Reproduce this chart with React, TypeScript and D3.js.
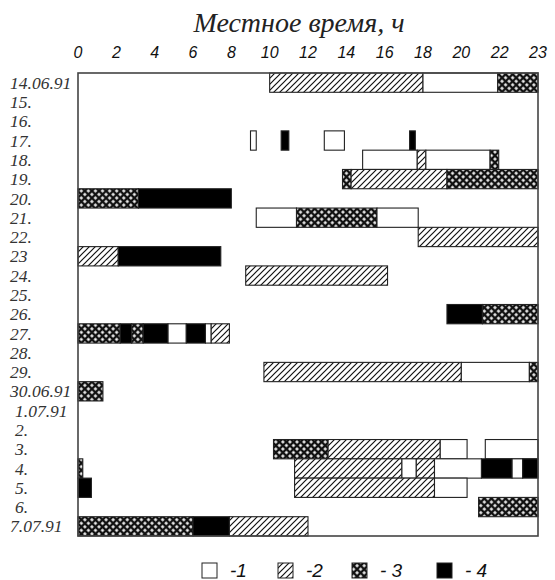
import React, { useEffect, useRef } from 'react';
import * as d3 from 'd3';

// rows (days), top to bottom
const rowLabels = [
  '14.06.91', '15.', '16.', '17.', '18.', '19.', '20.', '21.', '22.', '23',
  '24.', '25.', '26.', '27.', '28.', '29.', '30.06.91',
  '1.07.91', '2.', '3.', '4.', '5.', '6.', '7.07.91',
];

// [day, kind, from hour, to hour]; kind 1 = blank, 2 = hatched, 3 = cross, 4 = black
const segments: [string, number, number, number][] = [
  ['14.06.91', 2, 10, 18], ['14.06.91', 1, 18, 21.9], ['14.06.91', 3, 21.9, 24],
  ['17.', 1, 9.0, 9.3], ['17.', 4, 10.6, 11.0], ['17.', 1, 12.85, 13.9], ['17.', 4, 17.3, 17.6],
  ['18.', 1, 14.85, 17.7], ['18.', 2, 17.7, 18.15], ['18.', 1, 18.15, 21.5], ['18.', 3, 21.5, 21.95],
  ['19.', 3, 13.8, 14.25], ['19.', 2, 14.25, 19.25], ['19.', 3, 19.25, 24],
  ['20.', 3, 0, 3.15], ['20.', 4, 3.15, 8.0],
  ['21.', 1, 9.3, 11.4], ['21.', 3, 11.4, 15.6], ['21.', 1, 15.6, 17.75],
  ['22.', 2, 17.75, 24],
  ['23', 2, 0, 2.1], ['23', 4, 2.1, 7.45],
  ['24.', 2, 8.75, 16.15],
  ['26.', 4, 19.25, 21.1], ['26.', 3, 21.1, 24],
  ['27.', 3, 0, 2.2], ['27.', 4, 2.2, 2.8], ['27.', 3, 2.8, 3.4], ['27.', 4, 3.4, 4.7],
  ['27.', 1, 4.7, 5.65], ['27.', 4, 5.65, 6.65], ['27.', 1, 6.65, 6.95], ['27.', 2, 6.95, 7.9],
  ['29.', 2, 9.7, 20.0], ['29.', 1, 20.0, 23.55], ['29.', 3, 23.55, 24],
  ['30.06.91', 3, 0, 1.3],
  ['3.', 3, 10.2, 13.05], ['3.', 2, 13.05, 18.9], ['3.', 1, 18.9, 20.3], ['3.', 1, 21.25, 24],
  ['4.', 3, 0, 0.25], ['4.', 2, 11.3, 16.9], ['4.', 1, 16.9, 17.65], ['4.', 2, 17.65, 18.6],
  ['4.', 1, 18.6, 21.05], ['4.', 4, 21.05, 22.65], ['4.', 1, 22.65, 23.2], ['4.', 4, 23.2, 24],
  ['5.', 4, 0, 0.7], ['5.', 2, 11.3, 18.6], ['5.', 1, 18.6, 20.3],
  ['6.', 3, 20.9, 24],
  ['7.07.91', 3, 0, 6], ['7.07.91', 4, 6, 7.9], ['7.07.91', 2, 7.9, 12],
];

const hourTicks = [0, 2, 4, 6, 8, 10, 12, 14, 16, 18, 20, 22, 24];
const hourTickLabels = ['0', '2', '4', '6', '8', '10', '12', '14', '16', '18', '20', '22', '23'];

const legendKinds = [1, 2, 3, 4];
const legendLabels = ['-1', '-2', '- 3', '- 4'];

const fillFor = (k: number) =>
  k === 1 ? '#fff' : k === 2 ? 'url(#hatch)' : k === 3 ? 'url(#cross)' : '#000';

const App: React.FC = () => {
  const svgRef = useRef<SVGSVGElement>(null);

  useEffect(() => {
    if (!svgRef.current) return;
    const root = d3.select(svgRef.current);
    root.selectAll('*').remove();

    const width = 555;
    const height = 580;
    const left = 78, right = 538, top = 73, bottom = 536;

    root.attr('width', width).attr('height', height);

    const defs = root.append('defs');
    const hatch = defs.append('pattern')
      .attr('id', 'hatch')
      .attr('patternUnits', 'userSpaceOnUse')
      .attr('width', 6)
      .attr('height', 6);
    hatch.append('rect').attr('width', 6).attr('height', 6).attr('fill', '#fff');
    hatch.append('path')
      .attr('d', 'M0,6 L6,0 M-1,1 L1,-1 M5,7 L7,5')
      .attr('stroke', '#111')
      .attr('stroke-width', 1.2);

    const cross = defs.append('pattern')
      .attr('id', 'cross')
      .attr('patternUnits', 'userSpaceOnUse')
      .attr('width', 5)
      .attr('height', 5)
      .attr('patternTransform', 'rotate(45)');
    cross.append('rect').attr('width', 5).attr('height', 5).attr('fill', '#fff');
    cross.append('path')
      .attr('d', 'M0,0 H5 M0,5 H5 M0,0 V5 M5,0 V5')
      .attr('stroke', '#111')
      .attr('stroke-width', 2.4);

    const x = d3.scaleLinear().domain([0, 24]).range([left, right]);
    const y = d3.scaleBand<string>().domain(rowLabels).range([top, bottom]).padding(0);

    // title
    root.append('text')
      .attr('x', 299)
      .attr('y', 32)
      .attr('text-anchor', 'middle')
      .style('font-family', '"Liberation Serif", serif')
      .style('font-style', 'italic')
      .style('font-size', '28px')
      .style('fill', '#222')
      .text('Местное время, ч');

    // hour labels
    root.append('g')
      .selectAll('text')
      .data(hourTicks)
      .join('text')
      .attr('x', d => x(d))
      .attr('y', 58)
      .attr('text-anchor', 'middle')
      .style('font-family', '"Liberation Sans Narrow", "Liberation Sans", sans-serif')
      .style('font-style', 'italic')
      .style('font-size', '16px')
      .style('fill', '#111')
      .text((d, i) => hourTickLabels[i]);

    // day labels
    root.append('g')
      .selectAll('text')
      .data(rowLabels)
      .join('text')
      .attr('x', (d, i) => (i >= 17 && i <= 22 ? 15 : 10))
      .attr('y', d => (y(d) as number) + y.bandwidth() / 2)
      .attr('dy', '0.35em')
      .style('font-family', '"Liberation Serif", serif')
      .style('font-style', 'italic')
      .style('font-size', '17.5px')
      .style('fill', '#333')
      .text(d => d);

    // bars
    root.append('g')
      .selectAll('rect')
      .data(segments)
      .join('rect')
      .attr('x', d => x(d[2]))
      .attr('y', d => (y(d[0]) as number))
      .attr('width', d => x(d[3]) - x(d[2]))
      .attr('height', y.bandwidth())
      .attr('fill', d => fillFor(d[1]))
      .attr('stroke', '#222')
      .attr('stroke-width', 1.1);

    // frame
    root.append('rect')
      .attr('x', left)
      .attr('y', top)
      .attr('width', right - left)
      .attr('height', bottom - top)
      .attr('fill', 'none')
      .attr('stroke', '#444')
      .attr('stroke-width', 1.6);

    // legend
    const legendX = [202, 278, 352, 437];
    const lg = root.append('g');
    legendKinds.forEach((k, i) => {
      lg.append('rect')
        .attr('x', legendX[i])
        .attr('y', 563)
        .attr('width', 15)
        .attr('height', 15)
        .attr('fill', fillFor(k))
        .attr('stroke', '#222')
        .attr('stroke-width', 1);
      lg.append('text')
        .attr('x', legendX[i] + 28)
        .attr('y', 577)
        .style('font-family', '"Liberation Sans Narrow", "Liberation Sans", sans-serif')
        .style('font-style', 'italic')
        .style('font-size', '19px')
        .style('fill', '#111')
        .text(legendLabels[i]);
    });
  }, []);

  return (
    <div>
      <svg ref={svgRef} style={{ position: 'absolute', left: 0, top: 0 }} />
    </div>
  );
};

export default App;
